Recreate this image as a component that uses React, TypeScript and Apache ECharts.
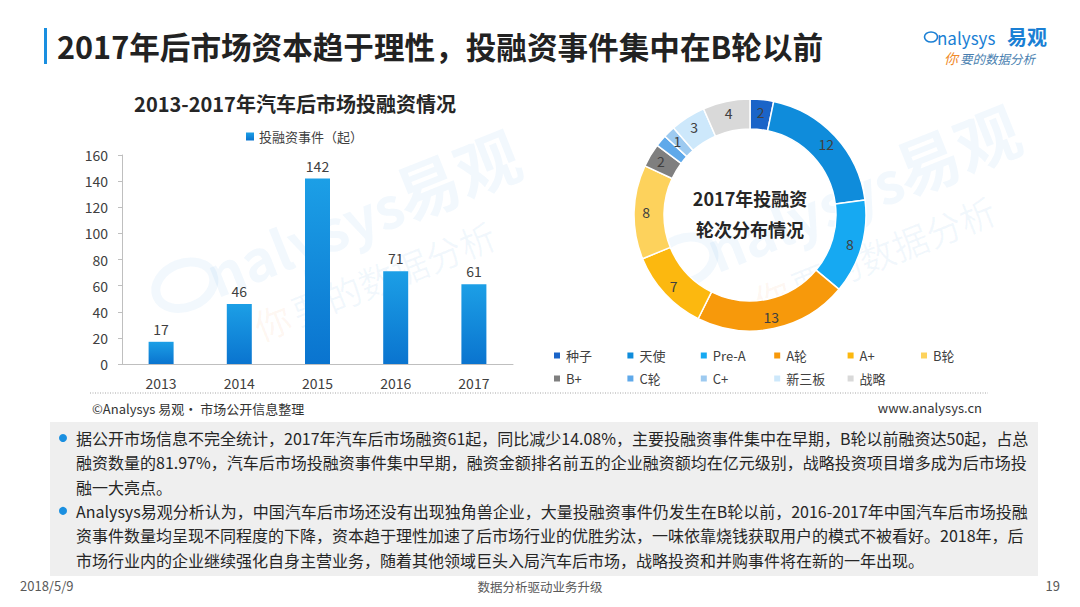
import React, { useEffect, useRef } from "react";
import * as echarts from "echarts";

const FONT = "'Noto Sans CJK SC', 'Noto Sans', sans-serif";

const pageTitle = "2017年后市场资本趋于理性，投融资事件集中在B轮以前";
const barTitle = "2013-2017年汽车后市场投融资情况";
const barSeriesName = "投融资事件（起）";
const years = ["2013", "2014", "2015", "2016", "2017"];
const investCounts = [17, 46, 142, 71, 61];

const roundNames = ["种子", "天使", "Pre-A", "A轮", "A+", "B轮", "B+", "C轮", "C+", "新三板", "战略"];
const roundValues = [2, 12, 8, 13, 7, 8, 2, 1, 1, 3, 4];
const roundColors = [
  "#1a64c8", "#0f8cdb", "#16a9f2", "#f7990b", "#fcb80f", "#fdd25c",
  "#7f7f7f", "#5fa9ea", "#9dcaf0", "#cde8fb", "#d9d9d9",
];
const donutCenterLines = ["2017年投融资", "轮次分布情况"];

const sourceText = "©Analysys 易观· 市场公开信息整理";
const siteText = "www.analysys.cn";
const noteLines = [
  "据公开市场信息不完全统计，2017年汽车后市场融资61起，同比减少14.08%，主要投融资事件集中在早期，B轮以前融资达50起，占总",
  "融资数量的81.97%，汽车后市场投融资事件集中早期，融资金额排名前五的企业融资额均在亿元级别，战略投资项目增多成为后市场投",
  "融一大亮点。",
  "Analysys易观分析认为，中国汽车后市场还没有出现独角兽企业，大量投融资事件仍发生在B轮以前，2016-2017年中国汽车后市场投融",
  "资事件数量均呈现不同程度的下降，资本趋于理性加速了后市场行业的优胜劣汰，一味依靠烧钱获取用户的模式不被看好。2018年，后",
  "市场行业内的企业继续强化自身主营业务，随着其他领域巨头入局汽车后市场，战略投资和并购事件将在新的一年出现。",
];
const bulletLineIndex = [0, 3];
const footerDate = "2018/5/9";
const footerSlogan = "数据分析驱动业务升级";
const footerPage = "19";

function txt(text: string, x: number, y: number, size: number, fill: string, opts: any = {}) {
  const align = opts.align || "left";
  return {
    type: "text",
    x,
    y,
    rotation: opts.rotation || 0,
    z: opts.z ?? 10,
    silent: true,
    style: {
      text,
      fill,
      font: `${opts.italic ? "italic " : ""}${opts.bold ? "bold " : ""}${size}px ${FONT}`,
      align,
      textAlign: align,
      verticalAlign: "middle",
      textVerticalAlign: "middle",
      opacity: opts.opacity ?? 1,
    },
  };
}

function watermark(cx: number, cy: number) {
  const blue = "rgba(40,140,220,0.06)";
  const orange = "rgba(240,140,50,0.07)";
  return {
    type: "group",
    x: cx,
    y: cy,
    rotation: 0.38,
    z: 0,
    silent: true,
    children: [
      { type: "ellipse", shape: { cx: -120, cy: -10, rx: 30, ry: 22 }, style: { fill: "none", stroke: blue, lineWidth: 9 }, z: 0 },
      { type: "text", x: -95, y: -10, style: { text: "nalysys", fill: blue, font: `bold 56px ${FONT}`, textVerticalAlign: "middle", verticalAlign: "middle" }, z: 0 },
      { type: "text", x: 110, y: -14, style: { text: "易观", fill: blue, font: `bold 64px ${FONT}`, textVerticalAlign: "middle", verticalAlign: "middle" }, z: 0 },
      { type: "text", x: -70, y: 55, style: { text: "你", fill: orange, font: `36px ${FONT}`, textVerticalAlign: "middle", verticalAlign: "middle" }, z: 0 },
      { type: "text", x: -30, y: 55, style: { text: "要的数据分析", fill: blue, font: `36px ${FONT}`, textVerticalAlign: "middle", verticalAlign: "middle" }, z: 0 },
    ],
  };
}

const legendCols = 6;
const roundLegends = roundNames.map((name, i) => ({
  data: [name],
  left: 547 + (i % legendCols) * 73.4,
  top: i < legendCols ? 344 : 367,
  icon: "rect",
  itemWidth: 8,
  itemHeight: 8,
  textStyle: { fontSize: 13, color: "#404040", fontFamily: FONT },
  selectedMode: false,
}));

export default function App() {
  const ref = useRef<HTMLDivElement>(null);

  useEffect(() => {
    if (!ref.current) return;
    const chart = echarts.init(ref.current, undefined, { renderer: "svg" });

    const noteGraphics: any[] = [];
    noteLines.forEach((line, i) => {
      const y = 438 + i * 24.3;
      noteGraphics.push(txt(line, 76, y, 16, "#262626"));
      if (bulletLineIndex.includes(i)) {
        noteGraphics.push({ type: "circle", shape: { cx: 63, cy: y, r: 4 }, style: { fill: "#1a8fe0" }, z: 10, silent: true });
      }
    });

    const option: any = {
      animation: false,
      backgroundColor: "#ffffff",
      textStyle: { fontFamily: FONT },
      legend: [
        {
          data: [barSeriesName],
          left: 241,
          top: 125,
          icon: "rect",
          itemWidth: 8,
          itemHeight: 8,
          itemGap: 5,
          textStyle: { fontSize: 13, color: "#404040", fontFamily: FONT },
          selectedMode: false,
        },
        ...roundLegends,
      ],
      grid: { left: 122, top: 155, width: 391, height: 209, containLabel: false },
      xAxis: {
        type: "category",
        data: years,
        axisLine: { show: true, lineStyle: { color: "#bfbfbf", width: 1 } },
        axisTick: { show: false },
        axisLabel: { color: "#404040", fontSize: 14, margin: 12, fontFamily: FONT },
      },
      yAxis: {
        type: "value",
        min: 0,
        max: 160,
        interval: 20,
        axisLine: { show: true, lineStyle: { color: "#bfbfbf", width: 1 } },
        axisTick: { show: true, length: 4, lineStyle: { color: "#bfbfbf" } },
        splitLine: { show: false },
        axisLabel: { color: "#404040", fontSize: 14, margin: 14, fontFamily: FONT },
      },
      series: [
        {
          name: barSeriesName,
          type: "bar",
          data: investCounts,
          barWidth: 25,
          z: 3,
          itemStyle: {
            color: new echarts.graphic.LinearGradient(0, 0, 0, 1, [
              { offset: 0, color: "#1c9fe6" },
              { offset: 1, color: "#0a74cf" },
            ]),
          },
          label: { show: true, position: "top", distance: 6, color: "#404040", fontSize: 14, fontFamily: FONT },
        },
        {
          name: "轮次",
          type: "pie",
          center: [750, 215],
          radius: [86, 116],
          startAngle: 90,
          clockwise: true,
          z: 3,
          data: roundNames.map((n, i) => ({ name: n, value: roundValues[i], itemStyle: { color: roundColors[i] } })),
          itemStyle: { borderColor: "#ffffff", borderWidth: 1.5 },
          label: { show: true, position: "inside", formatter: "{c}", color: "#404040", fontSize: 14, fontFamily: FONT },
          labelLine: { show: false },
          emphasis: { disabled: true },
        },
      ],
      graphic: [
        watermark(300, 250),
        watermark(800, 225),
        { type: "rect", shape: { x: 44, y: 28, width: 3, height: 36 }, style: { fill: "#1a8fe0" }, z: 10, silent: true },
        txt(pageTitle, 57, 46, 30.6, "#222222", { bold: true }),
        // logo
        { type: "ellipse", shape: { cx: 931, cy: 37, rx: 6.5, ry: 5 }, style: { fill: "none", stroke: "#1a7fd4", lineWidth: 1.6 }, z: 10, silent: true },
        txt("nalysys", 937, 37, 17, "#1a7fd4"),
        txt("易观", 1007, 36, 20, "#1a7fd4", { bold: true }),
        txt("你", 944, 58, 14, "#f08a2a", { italic: true }),
        txt("要的数据分析", 960, 58, 12.5, "#4a7fb0", { italic: true }),
        txt(barTitle, 295, 103, 20, "#262626", { bold: true, align: "center" }),
        txt(donutCenterLines[0], 750, 198, 18, "#262626", { bold: true, align: "center" }),
        txt(donutCenterLines[1], 750, 229, 18, "#262626", { bold: true, align: "center" }),
        {
          type: "line",
          shape: { x1: 90, y1: 393, x2: 988, y2: 393 },
          style: { stroke: "#a6a6a6", lineWidth: 1, lineDash: [1, 1.5] },
          z: 10,
          silent: true,
        },
        txt(sourceText, 92, 408, 13, "#333333"),
        txt(siteText, 982, 407, 13, "#333333", { align: "right" }),
        { type: "rect", shape: { x: 50, y: 422, width: 988, height: 154 }, style: { fill: "#efefef" }, z: 5, silent: true },
        ...noteGraphics,
        txt(footerDate, 20, 585, 13, "#595959"),
        txt(footerSlogan, 540, 586, 12.5, "#595959", { align: "center" }),
        txt(footerPage, 1060, 585, 13, "#595959", { align: "right" }),
      ],
    };

    chart.setOption(option);
    return () => chart.dispose();
  }, []);

  return (
    <div
      ref={ref}
      style={{ position: "fixed", left: 0, top: 0, width: 1080, height: 607, background: "#fff" }}
    />
  );
}
